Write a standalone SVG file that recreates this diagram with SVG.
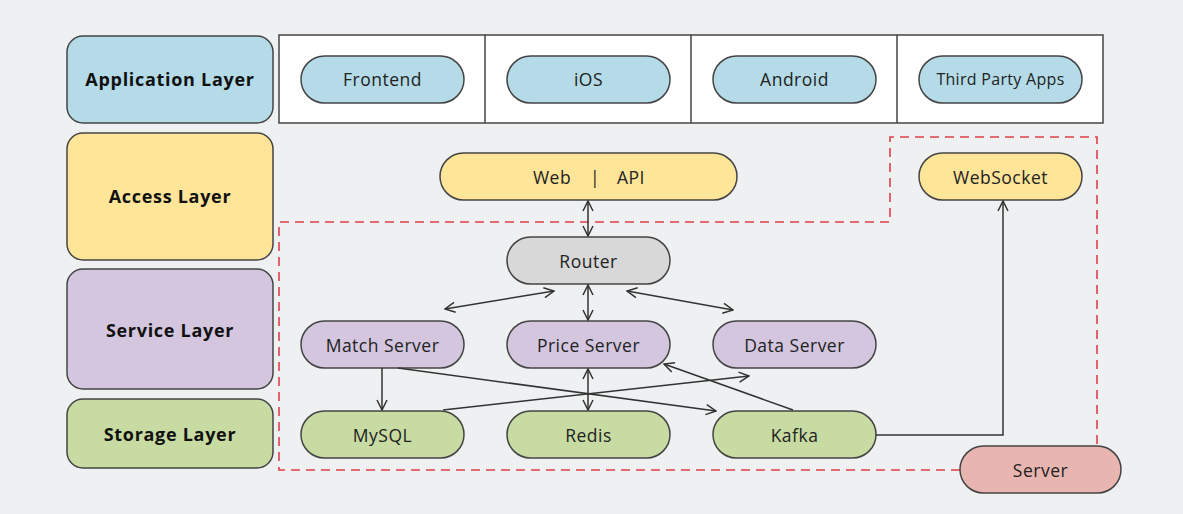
<svg xmlns="http://www.w3.org/2000/svg" width="1183" height="514" viewBox="0 0 1183 514">
<style>
text{font-family:"Open Sans","DejaVu Sans",sans-serif;font-size:17.5px;letter-spacing:0.5px;fill:#222;text-anchor:middle;dominant-baseline:central}
.lay{font-weight:bold;font-size:18px;letter-spacing:0.7px;fill:#111}
.box{stroke:#444;stroke-width:1.5}
.blue{fill:#b4dbe7}.yel{fill:#ffe598}.pur{fill:#d3c6de}.grn{fill:#c7dba2}.gry{fill:#d8d8d8}.pnk{fill:#e9b5b0}
.conn{fill:none;stroke:#333;stroke-width:1.5}
.dash{fill:none;stroke:#e0404a;stroke-width:1.6;stroke-dasharray:9 6}
</style>
<defs>
<marker id="ah" viewBox="0 0 12 12" refX="11" refY="6" markerWidth="12" markerHeight="12" markerUnits="userSpaceOnUse" orient="auto-start-reverse">
<path d="M1,1 L11,6 L1,11" fill="none" stroke="#333" stroke-width="1.5"/>
</marker>
</defs>
<rect width="1183" height="514" fill="#eef0f2"/>

<g id="layer-application"><rect class="box blue" x="67" y="36" width="206" height="87" rx="16"/><text class="lay" x="170" y="79">Application Layer</text></g>
<g id="layer-access"><rect class="box yel" x="67" y="133" width="206" height="127" rx="16"/><text class="lay" x="170" y="196">Access Layer</text></g>
<g id="layer-service"><rect class="box pur" x="67" y="269" width="206" height="120" rx="16"/><text class="lay" x="170" y="330">Service Layer</text></g>
<g id="layer-storage"><rect class="box grn" x="67" y="399" width="206" height="69" rx="16"/><text class="lay" x="170" y="434">Storage Layer</text></g>

<g id="app-table">
<rect x="279" y="35" width="824" height="88" fill="#fff" stroke="#444" stroke-width="1.5"/>
<path d="M485,35V123M691,35V123M897,35V123" stroke="#444" stroke-width="1.5"/>
</g>
<g id="frontend"><rect class="box blue" x="301" y="56" width="163" height="47" rx="23.5"/><text x="382.5" y="79">Frontend</text></g>
<g id="ios"><rect class="box blue" x="507" y="56" width="163" height="47" rx="23.5"/><text x="588.5" y="79">iOS</text></g>
<g id="android"><rect class="box blue" x="713" y="56" width="163" height="47" rx="23.5"/><text x="794.5" y="79">Android</text></g>
<g id="third-party"><rect class="box blue" x="919" y="56" width="163" height="47" rx="23.5"/><text x="1000.5" y="79" style="font-size:16px;letter-spacing:0.3px">Third Party Apps</text></g>

<g id="server-boundary"><path class="dash" d="M960,470H279V222H890V137H1097V446"/></g>

<g id="web-api"><rect class="box yel" x="440" y="153" width="297" height="47" rx="23.5"/><text y="177"><tspan x="552">Web</tspan><tspan x="595">|</tspan><tspan x="631">API</tspan></text></g>
<g id="websocket"><rect class="box yel" x="919" y="153" width="163" height="47" rx="23.5"/><text x="1000.5" y="177">WebSocket</text></g>
<g id="router"><rect class="box gry" x="507" y="237" width="163" height="47" rx="23.5"/><text x="588.5" y="261">Router</text></g>
<g id="match-server"><rect class="box pur" x="301" y="321" width="163" height="47" rx="23.5"/><text x="382.5" y="345">Match Server</text></g>
<g id="price-server"><rect class="box pur" x="507" y="321" width="163" height="47" rx="23.5"/><text x="588.5" y="345">Price Server</text></g>
<g id="data-server"><rect class="box pur" x="713" y="321" width="163" height="47" rx="23.5"/><text x="794.5" y="345">Data Server</text></g>
<g id="mysql"><rect class="box grn" x="301" y="411" width="163" height="47" rx="23.5"/><text x="382.5" y="435">MySQL</text></g>
<g id="redis"><rect class="box grn" x="507" y="411" width="163" height="47" rx="23.5"/><text x="588.5" y="435">Redis</text></g>
<g id="kafka"><rect class="box grn" x="713" y="411" width="163" height="47" rx="23.5"/><text x="794.5" y="435">Kafka</text></g>
<g id="server"><rect class="box pnk" x="960" y="446" width="161" height="47" rx="23.5"/><text x="1040.5" y="470">Server</text></g>

<g id="connectors">
<path class="conn" d="M588,201V236" marker-start="url(#ah)" marker-end="url(#ah)"/>
<path class="conn" d="M554,291L445,309" marker-start="url(#ah)" marker-end="url(#ah)"/>
<path class="conn" d="M588,285V320" marker-start="url(#ah)" marker-end="url(#ah)"/>
<path class="conn" d="M627,291L733,310" marker-start="url(#ah)" marker-end="url(#ah)"/>
<path class="conn" d="M382,368V410" marker-end="url(#ah)"/>
<path class="conn" d="M398,368L716,411" marker-end="url(#ah)"/>
<path class="conn" d="M443,410L749,376" marker-end="url(#ah)"/>
<path class="conn" d="M588,369V410" marker-start="url(#ah)" marker-end="url(#ah)"/>
<path class="conn" d="M793,410L664,364" marker-end="url(#ah)"/>
<path class="conn" d="M876,435H1003V201" marker-end="url(#ah)"/>
</g>
</svg>
